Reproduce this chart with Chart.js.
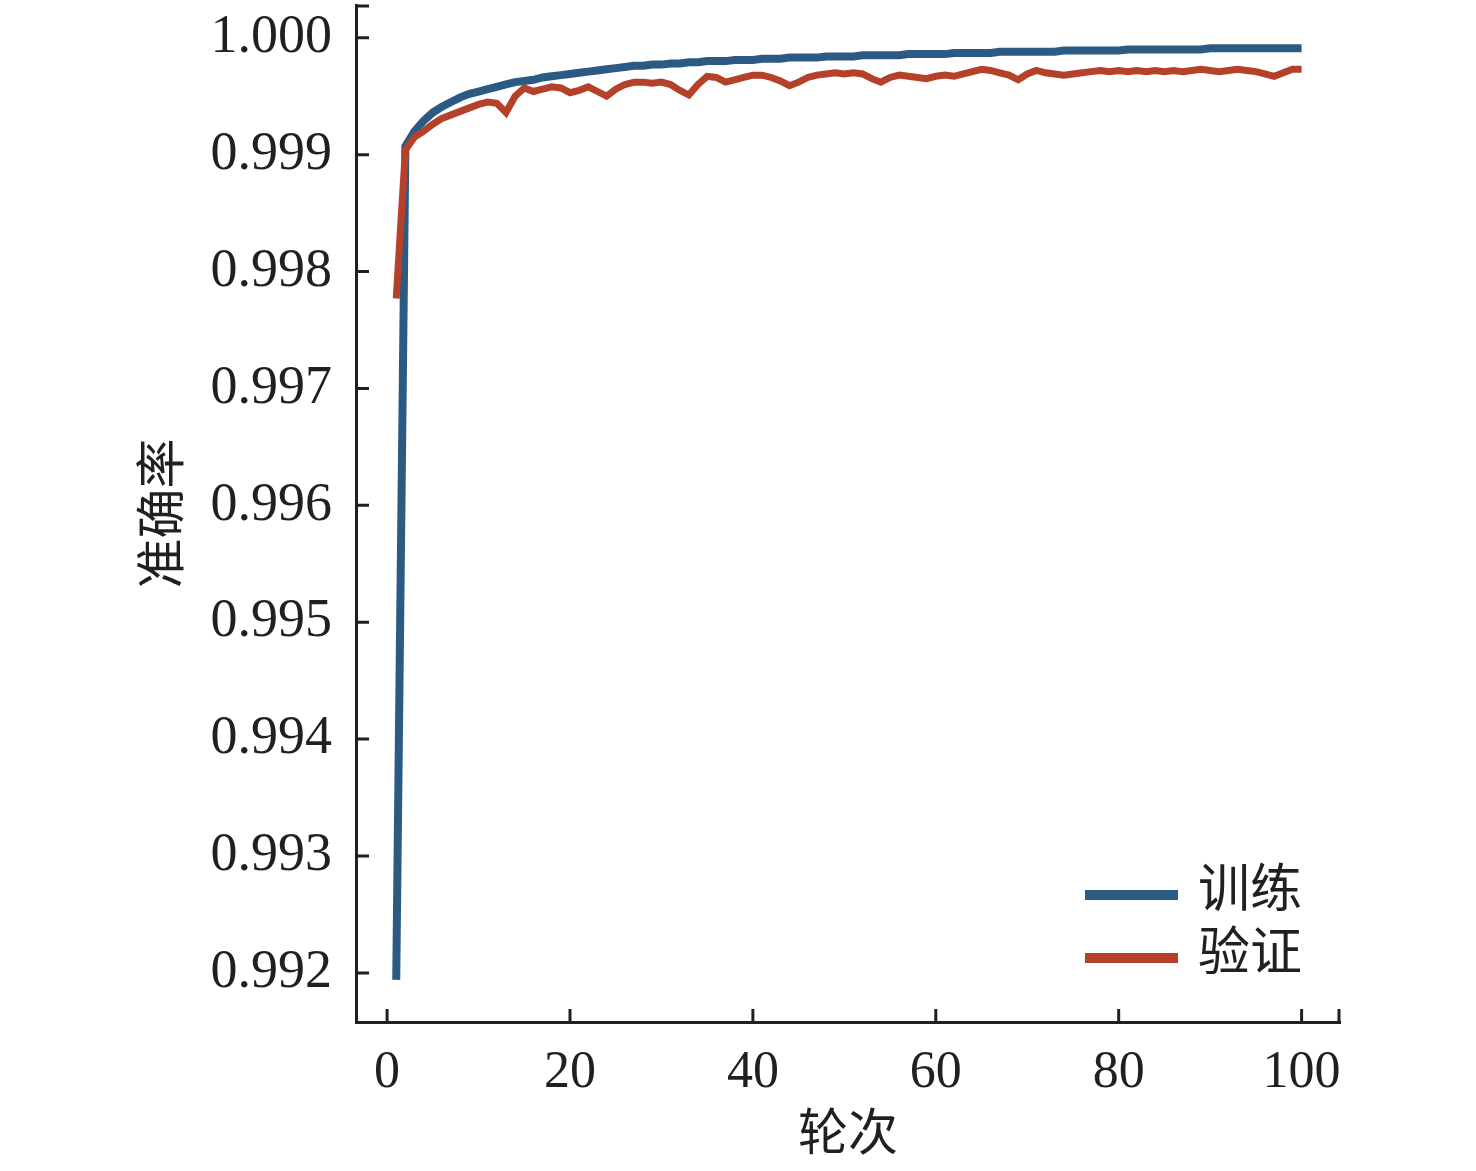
<!DOCTYPE html>
<html>
<head>
<meta charset="utf-8">
<script src="https://cdn.jsdelivr.net/npm/chart.js@4/dist/chart.umd.min.js"></script>
<style>
  body { margin: 0; background: #fff; }
  #wrap { width: 1476px; height: 1171px; }
</style>
</head>
<body>
<div id="wrap"><canvas id="chart" width="1476" height="1171"></canvas></div>
<script>
const epochs = [];
for (let e = 1; e <= 100; e++) epochs.push(e);

const trainAcc = [
  0.99194, 0.99907, 0.99920, 0.99929, 0.99936, 0.99941, 0.99945, 0.99949, 0.99952, 0.99954,
  0.99956, 0.99958, 0.99960, 0.99962, 0.99963, 0.99964, 0.99966, 0.99967, 0.99968, 0.99969,
  0.99970, 0.99971, 0.99972, 0.99973, 0.99974, 0.99975, 0.99976, 0.99976, 0.99977, 0.99977,
  0.99978, 0.99978, 0.99979, 0.99979, 0.99980, 0.99980, 0.99980, 0.99981, 0.99981, 0.99981,
  0.99982, 0.99982, 0.99982, 0.99983, 0.99983, 0.99983, 0.99983, 0.99984, 0.99984, 0.99984,
  0.99984, 0.99985, 0.99985, 0.99985, 0.99985, 0.99985, 0.99986, 0.99986, 0.99986, 0.99986,
  0.99986, 0.99987, 0.99987, 0.99987, 0.99987, 0.99987, 0.99988, 0.99988, 0.99988, 0.99988,
  0.99988, 0.99988, 0.99988, 0.99989, 0.99989, 0.99989, 0.99989, 0.99989, 0.99989, 0.99989,
  0.99990, 0.99990, 0.99990, 0.99990, 0.99990, 0.99990, 0.99990, 0.99990, 0.99990, 0.99991,
  0.99991, 0.99991, 0.99991, 0.99991, 0.99991, 0.99991, 0.99991, 0.99991, 0.99991, 0.99991
];

const valAcc = [
  0.99777, 0.99904, 0.99915, 0.99920, 0.99926, 0.99931, 0.99934, 0.99937, 0.99940, 0.99943,
  0.99945, 0.99944, 0.99936, 0.99950, 0.99957, 0.99954, 0.99956, 0.99958, 0.99957, 0.99953,
  0.99955, 0.99958, 0.99954, 0.99950, 0.99956, 0.99960, 0.99962, 0.99962, 0.99961, 0.99962,
  0.99960, 0.99955, 0.99951, 0.99960, 0.99967, 0.99966, 0.99962, 0.99964, 0.99966, 0.99968,
  0.99968, 0.99966, 0.99963, 0.99959, 0.99962, 0.99966, 0.99968, 0.99969, 0.99970, 0.99969,
  0.99970, 0.99969, 0.99965, 0.99962, 0.99966, 0.99968, 0.99967, 0.99966, 0.99965, 0.99967,
  0.99968, 0.99967, 0.99969, 0.99971, 0.99973, 0.99972, 0.99970, 0.99968, 0.99964, 0.99969,
  0.99972, 0.99970, 0.99969, 0.99968, 0.99969, 0.99970, 0.99971, 0.99972, 0.99971, 0.99972,
  0.99971, 0.99972, 0.99971, 0.99972, 0.99971, 0.99972, 0.99971, 0.99972, 0.99973, 0.99972,
  0.99971, 0.99972, 0.99973, 0.99972, 0.99971, 0.99969, 0.99967, 0.99970, 0.99973, 0.99973
];

const xTicks = [0, 20, 40, 60, 80, 100];
const yTicks = [0.992, 0.993, 0.994, 0.995, 0.996, 0.997, 0.998, 0.999, 1.000];

const AXIS = "#231f20";
const serif = "'Times New Roman', 'Liberation Serif', 'Noto Sans CJK SC', serif";

// ticks point into the plot, like the original figure
const innerTicks = {
  id: "innerTicks",
  afterDraw(chart) {
    const ctx = chart.ctx;
    const x = chart.scales.x, y = chart.scales.y;
    const a = chart.chartArea;
    const len = 13;
    ctx.save();
    ctx.strokeStyle = AXIS;
    ctx.lineWidth = 3;
    ctx.beginPath();
    xTicks.forEach(v => {
      const px = x.getPixelForValue(v);
      ctx.moveTo(px, a.bottom);
      ctx.lineTo(px, a.bottom - len);
    });
    yTicks.forEach(v => {
      const py = y.getPixelForValue(v);
      ctx.moveTo(a.left, py);
      ctx.lineTo(a.left + len, py);
    });
    // end caps of the axes
    ctx.moveTo(a.left, a.top + 1);
    ctx.lineTo(a.left + len, a.top + 1);
    ctx.moveTo(a.right - 1, a.bottom);
    ctx.lineTo(a.right - 1, a.bottom - len);
    ctx.stroke();
    ctx.restore();
  }
};

// legend in the lower right corner
const cornerLegend = {
  id: "cornerLegend",
  afterDraw(chart) {
    const ctx = chart.ctx;
    ctx.save();
    ctx.font = "52px " + serif;
    ctx.textBaseline = "middle";
    chart.data.datasets.forEach((ds, i) => {
      const yy = 895 + i * 63;
      ctx.strokeStyle = ds.borderColor;
      ctx.lineWidth = 10;
      ctx.beginPath();
      ctx.moveTo(1085, yy);
      ctx.lineTo(1178, yy);
      ctx.stroke();
      ctx.fillStyle = "#231f20";
      ctx.fillText(ds.label, 1198, yy - 2);
    });
    ctx.restore();
  }
};

new Chart(document.getElementById("chart").getContext("2d"), {
  type: "line",
  data: {
    datasets: [
      {
        label: "训练",
        data: epochs.map((e, i) => ({ x: e, y: trainAcc[i] })),
        borderColor: "#2b5b82",
        borderWidth: 8,
        pointRadius: 0,
        order: 2
      },
      {
        label: "验证",
        data: epochs.map((e, i) => ({ x: e, y: valAcc[i] })),
        borderColor: "#b5412b",
        borderWidth: 7,
        pointRadius: 0,
        order: 1
      }
    ]
  },
  options: {
    responsive: false,
    animation: false,
    layout: { padding: { left: 0, top: 5, right: 136, bottom: 0 } },
    plugins: { legend: { display: false }, tooltip: { enabled: false } },
    scales: {
      x: {
        type: "linear",
        min: -3.4,
        max: 104.2,
        afterBuildTicks: s => { s.ticks = xTicks.map(v => ({ value: v })); },
        afterFit: s => { s.height = 149; s.paddingLeft = 0; s.paddingRight = 0; },
        grid: { display: false, drawTicks: false },
        border: { display: true, color: AXIS, width: 3 },
        ticks: {
          color: AXIS,
          padding: 20,
          maxRotation: 0,
          autoSkip: false,
          font: { family: serif, size: 52 }
        },
        title: {
          display: true,
          text: "轮次",
          color: AXIS,
          padding: { top: 0, bottom: 4 },
          font: { family: serif, size: 50 }
        }
      },
      y: {
        min: 0.99158,
        max: 1.00028,
        afterBuildTicks: s => { s.ticks = yTicks.map(v => ({ value: v })); },
        afterFit: s => { s.width = 356; s.paddingTop = 0; s.paddingBottom = 0; },
        grid: { display: false, drawTicks: false },
        border: { display: true, color: AXIS, width: 3 },
        ticks: {
          color: AXIS,
          padding: 24,
          autoSkip: false,
          font: { family: serif, size: 54 },
          callback: v => v.toFixed(3)
        },
        title: {
          display: true,
          text: "准确率",
          color: AXIS,
          padding: { top: 136, bottom: 0 },
          font: { family: serif, size: 50 }
        }
      }
    }
  },
  plugins: [innerTicks, cornerLegend]
});
</script>
</body>
</html>
